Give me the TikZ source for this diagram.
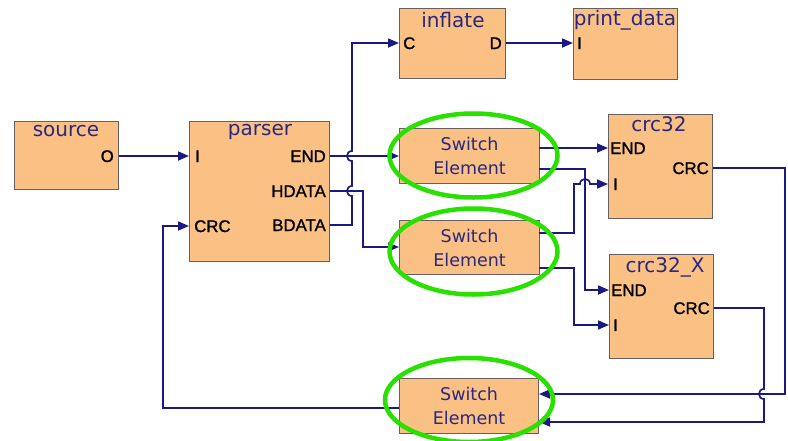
\documentclass[tikz,border=0pt]{standalone}
\usepackage{fontspec}
\setmainfont{Liberation Sans}
\newfontfamily\ttlfont{DejaVu Sans}
\newfontfamily\prtfont[FakeBold=1.2]{Liberation Sans}
\usetikzlibrary{arrows.meta}
\definecolor{wirec}{RGB}{26,26,128}
\definecolor{boxfill}{RGB}{251,192,132}
\definecolor{boxline}{RGB}{105,95,95}
\definecolor{ringc}{RGB}{40,225,0}
\definecolor{ttlc}{RGB}{40,40,130}
\begin{document}
\begin{tikzpicture}[x=1pt,y=-1pt,
  blk/.style={draw=boxline, fill=boxfill, line width=1.2pt, inner sep=0pt, anchor=north west},
  ttl/.style={text=ttlc, font=\ttlfont\fontsize{20}{22}\selectfont, inner sep=0pt, anchor=base},
  prt/.style={font=\prtfont\fontsize{16.8}{18}\selectfont, inner sep=0pt, text height=12pt, text depth=0pt},
  swb/.style={blk, text=ttlc, font=\ttlfont\fontsize{17.5}{24}\selectfont, align=center},
  wire/.style={draw=wirec, line width=1.7pt},
  arr/.style={wire, -{Triangle[length=11pt,width=9pt]}},
  ring/.style={draw=ringc, line width=4.5pt},
]
\useasboundingbox (0,0) rectangle (788,440);

% blocks
\node[blk, minimum width=104pt, minimum height=68pt] (source) at (14,121) {};
\node[blk, minimum width=140pt, minimum height=140pt] (parser) at (189,121) {};
\node[blk, minimum width=106pt, minimum height=70pt] (inflate) at (399,8) {};
\node[blk, minimum width=104pt, minimum height=71pt] (print) at (573,8) {};
\node[blk, minimum width=104pt, minimum height=104pt] (crc) at (608,114) {};
\node[blk, minimum width=104pt, minimum height=104pt] (crcx) at (609,254) {};
\node[swb, minimum width=140pt, minimum height=55pt] (sw1) at (399,128) {Switch\\Element};
\node[swb, minimum width=140pt, minimum height=54pt] (sw2) at (399,220) {Switch\\Element};
\node[swb, minimum width=139pt, minimum height=55pt] (sw3) at (399,378) {Switch\\Element};

% titles
\node[ttl] (tsource) at (66,136) {source};
\node[ttl] (tparser) at (260,135) {parser};
\node[ttl] (tinflate) at (453,27) {inflate};
\node[ttl] (tprint) at (625,25) {print\_data};
\node[ttl] (tcrc) at (659,131) {crc32};
\node[ttl] (tcrcx) at (665,272) {crc32\_X};

% ports
\node[prt, anchor=east] (sO) at (114,156) {O};
\node[prt, anchor=west] (pI) at (195,156) {I};
\node[prt, anchor=east] (pEND) at (326,156) {END};
\node[prt, anchor=east] (pHD) at (326,191) {HDATA};
\node[prt, anchor=east] (pBD) at (326,225) {BDATA};
\node[prt, anchor=west] (pCRC) at (194,226) {CRC};
\node[prt, anchor=west] (iC) at (403,43) {C};
\node[prt, anchor=east] (iD) at (502,43) {D};
\node[prt, anchor=west] (dI) at (577,43) {I};
\node[prt, anchor=west] (cEND) at (610,148) {END};
\node[prt, anchor=east] (cCRC) at (709,168) {CRC};
\node[prt, anchor=west] (cI) at (613,184) {I};
\node[prt, anchor=west] (xEND) at (611,290) {END};
\node[prt, anchor=east] (xCRC) at (710,308) {CRC};
\node[prt, anchor=west] (xI) at (613,325) {I};

% helper coordinates for bends
\coordinate (sw1o1) at (539,148);
\coordinate (sw1o2) at (539,169);
\coordinate (sw2o1) at (539,233);
\coordinate (sw2o2) at (539,268);
\coordinate (sw3o) at (399,408);
\coordinate (sw3i1) at (539,394);
\coordinate (sw3i2) at (539,422);

% connectors
\draw[arr] (source.east |- sO) -- (parser.west |- pI);
\draw[arr] (parser.east |- pEND) -- (399,156);
\draw[arr] (parser.east |- pHD) -- (363,191) -- (363,247) -- (399,247);
\draw[arr] (parser.east |- pBD) -- (352,225) -- (352,196)
  .. controls (345.3,196) and (345.3,186) .. (352,186) -- (352,161)
  .. controls (345.3,161) and (345.3,151) .. (352,151) -- (352,43) -- (inflate.west |- iC);
\draw[arr] (inflate.east |- iD) -- (print.west |- dI);
\draw[arr] (sw1o1) -- (crc.west |- cEND);
\draw[arr] (sw1o2) -- (585,169) -- (585,290) -- (crcx.west |- xEND);
\draw[arr] (sw2o1) -- (574,233) -- (574,184) -- (580,184)
  .. controls (580,177.3) and (590,177.3) .. (590,184) -- (crc.west |- cI);
\draw[arr] (sw2o2) -- (574,268) -- (574,325) -- (crcx.west |- xI);
\draw[arr] (crc.east |- cCRC) -- (785,168) -- (785,394) -- (sw3i1);
\draw[arr] (crcx.east |- xCRC) -- (764,308) -- (764,389)
  .. controls (757.3,389) and (757.3,399) .. (764,399) -- (764,422) -- (sw3i2);
\draw[arr] (sw3o) -- (163,408) -- (163,226) -- (parser.west |- pCRC);

% highlight rings
\draw[ring] (473.5,155.5) ellipse [x radius=84, y radius=42];
\draw[ring] (473.5,251.5) ellipse [x radius=84, y radius=43];
\draw[ring] (469,400) ellipse [x radius=84, y radius=42];
\end{tikzpicture}
\end{document}
